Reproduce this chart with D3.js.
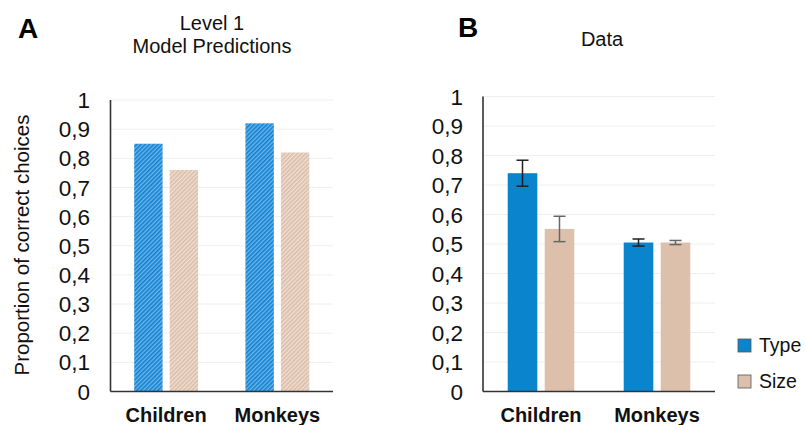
<!DOCTYPE html>
<html>
<head>
<meta charset="utf-8">
<script src="https://cdn.jsdelivr.net/npm/d3@7"></script>
<style>
  body { margin: 0; background: #fff; }
  svg { display: block; font-family: "Liberation Sans", Arial, sans-serif; }
</style>
</head>
<body>
<svg id="chart" width="806" height="425"></svg>
<script>
// ---- Data ----
const categories = ["Children", "Monkeys"];
const seriesNames = ["Type", "Size"];
const modelType = [0.85, 0.92];
const modelSize = [0.76, 0.82];
const dataType = [0.74, 0.505];
const dataSize = [0.551, 0.505];
const dataTypeErr = [0.044, 0.012];
const dataSizeErr = [0.043, 0.007];
const yTicks = [0, 0.1, 0.2, 0.3, 0.4, 0.5, 0.6, 0.7, 0.8, 0.9, 1];

const svg = d3.select("#chart");
const defs = svg.append("defs");

function hatch(id, bg, fg) {
  const p = defs.append("pattern")
    .attr("id", id).attr("patternUnits", "userSpaceOnUse")
    .attr("width", 3).attr("height", 3)
    .attr("patternTransform", "rotate(45)");
  p.append("rect").attr("width", 3).attr("height", 3).attr("fill", bg);
  p.append("rect").attr("width", 1.6).attr("height", 3).attr("fill", fg);
}
hatch("hType", "#6bb8ea", "#137fcf");
hatch("hSize", "#f1e0d4", "#d9bca7");

const fmt = d => d === 0 ? "0" : d === 1 ? "1" : d3.format(".1f")(d).replace(".", ",");

function panel(opt) {
  const { x0, x1, yTop, yBot, type, size, typeErr, sizeErr, fills, labelX } = opt;
  const g = svg.append("g");
  const y = d3.scaleLinear().domain([0, 1]).range([yBot, yTop]);
  const xg = d3.scaleBand().domain(categories).range([x0, x1])
    .paddingInner(0.426).paddingOuter(0.213);
  const xs = d3.scaleBand().domain(seriesNames).range([0, xg.bandwidth()]).paddingInner(0.2);

  // gridlines
  g.selectAll("line.grid").data(yTicks.slice(1)).join("line")
    .attr("x1", x0).attr("x2", x1)
    .attr("y1", d => y(d)).attr("y2", d => y(d))
    .attr("stroke", "#eeeeee").attr("stroke-width", 1);

  // tick labels
  g.selectAll("text.tick").data(yTicks).join("text")
    .attr("x", labelX).attr("y", d => y(d))
    .attr("dy", "0.36em").attr("text-anchor", "end")
    .attr("font-size", 22.5).attr("fill", "#111")
    .text(fmt);

  const rows = categories.map((c, i) => [
    { cat: c, s: "Type", v: type[i], e: typeErr ? typeErr[i] : null },
    { cat: c, s: "Size", v: size[i], e: sizeErr ? sizeErr[i] : null }
  ]).flat();

  g.selectAll("rect.bar").data(rows).join("rect")
    .attr("x", d => xg(d.cat) + xs(d.s))
    .attr("y", d => y(d.v))
    .attr("width", xs.bandwidth())
    .attr("height", d => y(0) - y(d.v))
    .attr("fill", d => fills[d.s]);

  // error bars
  const eb = rows.filter(d => d.e != null);
  const col = s => s === "Type" ? "#1f1f1f" : "#666666";
  const cx = d => xg(d.cat) + xs(d.s) + xs.bandwidth() / 2;
  g.selectAll("line.ev").data(eb).join("line")
    .attr("x1", cx).attr("x2", cx)
    .attr("y1", d => y(d.v + d.e)).attr("y2", d => y(d.v - d.e))
    .attr("stroke", d => col(d.s)).attr("stroke-width", 1.5);
  [1, -1].forEach(sgn => {
    g.selectAll("line.cap" + sgn).data(eb).join("line")
      .attr("x1", d => cx(d) - 6).attr("x2", d => cx(d) + 6)
      .attr("y1", d => y(d.v + sgn * d.e)).attr("y2", d => y(d.v + sgn * d.e))
      .attr("stroke", d => col(d.s)).attr("stroke-width", 1.5);
  });

  // axes lines
  g.append("line").attr("x1", x0).attr("x2", x0).attr("y1", yTop).attr("y2", yBot)
    .attr("stroke", "#333").attr("stroke-width", 1.6);
  g.append("line").attr("x1", x0).attr("x2", x1).attr("y1", yBot).attr("y2", yBot)
    .attr("stroke", "#333").attr("stroke-width", 1.6);

  // category labels
  g.selectAll("text.cat").data(categories).join("text")
    .attr("x", d => xg(d) + xg.bandwidth() / 2).attr("y", 422)
    .attr("text-anchor", "middle").attr("font-size", 20).attr("font-weight", "bold")
    .attr("fill", "#111").text(d => d);
}

panel({ x0: 110.5, x1: 333, yTop: 100, yBot: 391.5, type: modelType, size: modelSize,
  fills: { Type: "url(#hType)", Size: "url(#hSize)" }, labelX: 90 });
panel({ x0: 483, x1: 715, yTop: 96.5, yBot: 391.5, type: dataType, size: dataSize,
  typeErr: dataTypeErr, sizeErr: dataSizeErr,
  fills: { Type: "#0a84cc", Size: "#dcc0ac" }, labelX: 463 });

// titles
svg.append("text").attr("x", 18).attr("y", 38).attr("font-size", 28).attr("font-weight", "bold").text("A");
svg.append("text").attr("x", 458).attr("y", 37).attr("font-size", 28).attr("font-weight", "bold").text("B");
svg.append("text").attr("x", 212).attr("y", 30).attr("text-anchor", "middle").attr("font-size", 20).attr("fill", "#111").text("Level 1");
svg.append("text").attr("x", 212).attr("y", 53).attr("text-anchor", "middle").attr("font-size", 20).attr("fill", "#111").text("Model Predictions");
svg.append("text").attr("x", 602).attr("y", 46).attr("text-anchor", "middle").attr("font-size", 20).attr("fill", "#111").text("Data");

// y-axis title
svg.append("text").attr("transform", "translate(29,245) rotate(-90)")
  .attr("text-anchor", "middle").attr("font-size", 20.5).attr("fill", "#111")
  .text("Proportion of correct choices");

// legend
const legFill = { Type: "#0a84cc", Size: "#dcc0ac" };
const leg = svg.append("g");
seriesNames.forEach((s, i) => {
  const yy = 339 + i * 36;
  leg.append("rect").attr("x", 738).attr("y", yy).attr("width", 13).attr("height", 13)
    .attr("fill", legFill[s]).attr("stroke", "#555").attr("stroke-width", 0.8);
  leg.append("text").attr("x", 759).attr("y", yy + 13).attr("font-size", 19.5).attr("fill", "#111").text(s);
});
</script>
</body>
</html>
